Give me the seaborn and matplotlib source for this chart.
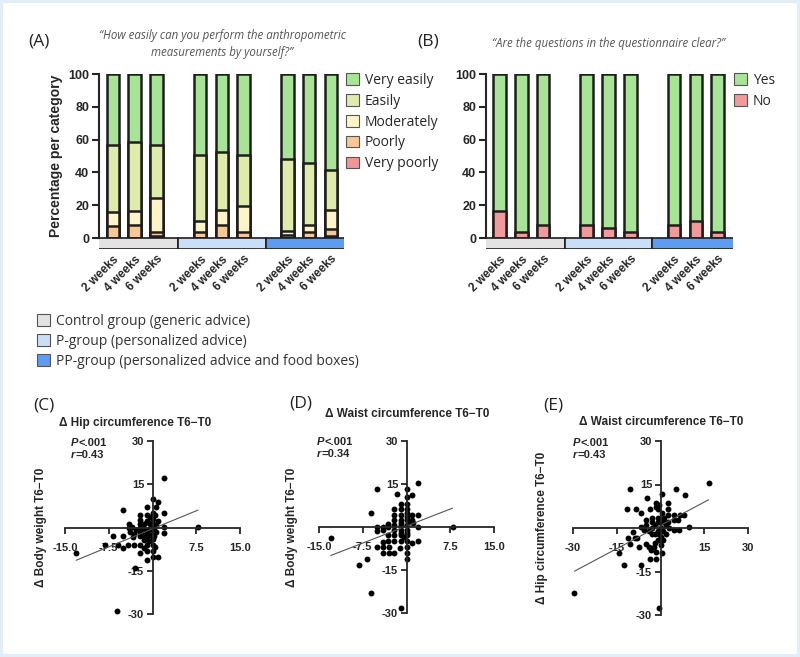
import numpy as np
import matplotlib
matplotlib.use("Agg")
import matplotlib.pyplot as plt
import matplotlib.patches as mpatches
import pandas as pd
import seaborn as sns

sns.set_style("ticks")
plt.rcParams['font.family'] = ['Liberation Sans', 'DejaVu Sans']

weeks = ["2 weeks", "4 weeks", "6 weeks"]
groups = ["Control group (generic advice)", "P-group (personalized advice)",
          "PP-group (personalized advice and food boxes)"]
group_colors = ["#e3e3e3", "#c9def7", "#5c9cf2"]

# (A) percentages per bar: control 2/4/6 wk, P 2/4/6 wk, PP 2/4/6 wk
very_poorly = [0, 0, 1.5, 0, 0, 0, 0, 0, 1.5]
poorly = [7.5, 8, 2, 3.7, 8, 3.7, 2, 3.5, 4]
moderately = [8.5, 8.5, 21, 6.7, 9, 15.8, 2, 4.5, 11.5]
easily = [40.5, 42, 32, 40, 35.5, 31, 44, 37.5, 24.5]
very_easily = [43.5, 41.5, 43.5, 49.6, 47.5, 49.5, 52, 54.5, 58.5]
a_labels = ["Very poorly", "Poorly", "Moderately", "Easily", "Very easily"]
a_colors = ["#f09696", "#f7c896", "#fdf4c8", "#deebaa", "#a8e496"]

# (B)
no = [16.7, 3.7, 8, 8, 6, 3.7, 8, 10.6, 3.7]
yes = [83.3, 96.3, 92, 92, 94, 96.3, 92, 89.4, 96.3]
b_labels = ["No", "Yes"]
b_colors = ["#f09a9a", "#a8e496"]

# (C) hip circumference vs body weight change
c_hip = [1.9, 0, 0.9, -1.0, 0.6, -5.0, -2.1, -1.0, 0, 1.9, -2.1, -1.0, 0, 0.9, -4.1,
         -2.1, -1.4, -0.6, 0, 0.6, 1.9, 7.8, -4.1, -2.1, -1.4, -0.6, 0, -3.9, -3.1, -2.1,
         -1.0, 0, 1.9, 0.6, -6.8, -3.4, -2.1, -1.0, 0, -5.1, -1.4, -0.6, -8.1, -5.9, -4.2,
         -3.1, -2.1, -1.0, 0, -5.0, -2.1, -1.0, 0, -13.1, -1.0, 0, 0.9, -3.0, -6.1, -1.8,
         -0.3, 0.3, -1.7, -0.4, 0.3, -2.8, -3.5, -0.5, 0.4, -1.5, 0.4]
c_weight = [17.2, 9.9, 9.0, 7.1, 7.1, 6.0, 4.2, 4.2, 5.0, 5.0, 2.7, 2.4, 3.0, 2.4, 1.3,
            1.3, 1.3, 1.5, 1.3, 0.7, 0.1, 0.3, -0.1, -0.1, -0.5, -0.5, -0.8, -1.6, -2.2, -1.6,
            -1.6, -2.2, -1.8, -1.4, -2.9, -3.4, -3.1, -3.4, -3.9, -3.1, -4.5, -4.7, -5.9, -5.9, -5.9,
            -5.9, -5.9, -5.9, -5.9, -7.1, -8.9, -8.0, -8.0, -8.9, -11.1, -10.1, -10.1, -14.0, -29.0, 0.5,
            0.5, -0.2, -2.6, -2.5, -3.0, -0.8, 0.2, 3.5, 4.3, -7.0, -6.8]

# (D) waist circumference vs body weight change
d_waist = [1.9, -5.0, 0, -1.6, 1.0, 0, -6.1, -1.0, 0, -2.1, -1.0, 0, -2.1, -1.0, 0, 1.0, 1.9,
           -2.1, -1.0, 0, 1.0, -3.2, -2.1, -1.0, 0, 0.5, 1.1, -5.0, -4.1, -3.2, 7.9, 1.9,
           -13.0, -5.0, -4.1, -2.1, -1.0, 0, -3.2, -2.1, -1.0, 0,
           -4.1, -3.2, -2.1, -1.0, 0, 1.0, 1.9, -5.0, -4.1, -3.0, -1.2, 0,
           -4.1, -3.0, -2.1, 0, -6.7, 0, -8.1, -6.1, -1.0, 0, -1.0, 0, -1.0, -0.5]
d_weight = [15.2, 13.1, 13.1, 11.5, 11.2, 10.6, 5.0, 8.0, 8.0, 6.2, 6.2, 6.2, 4.2, 4.2, 4.8, 4.2, 4.2,
            2.4, 2.4, 2.4, 2.4, 1.0, 0.7, 0.7, 0.7, 1.9, 1.3, -0.1, -0.1, -0.1, 0.1, 0.1,
            -4.0, -1.3, -1.0, -1.0, -1.0, -1.0, -2.8, -2.8, -2.8, -2.8,
            -5.1, -4.8, -4.8, -4.8, -4.8, -5.7, -4.8, -7.1, -7.1, -7.1, -7.4, -6.9,
            -9.0, -9.0, -9.0, -9.0, -11.0, -11.0, -13.3, -23.1, -28.1, -2.0, -2.0, 3.5, 1.5, -3.5]

# (E) waist circumference vs hip circumference change
e_waist = [16.5, -10.5, 5.4, 0.5, -4.5, 8.5, -11.5, -8.3, -6.6, -3.5, -1.6, -1.6, -0.5, -0.9,
           2.7, 2.7, 4.5, 6.7, 2.5, 0.5, 1.3, 4.5, 5.9, 7.9, 9.6, 4.5, 6.5,
           -5.0, -3.0, -5.0, -6.6, -5.8,
           -3, -2, -1, 0, 1, -1, -2, 0, 2, 1, -3, 0, 1, -1, 2, 3, -4, -2, 0, -3, 1, -1, 2.5, -0.5,
           -9.5, -11.0, -8.9, -8.1, -10.4, -7.5, -4.9, -4.1, -2.4, -3.2, -1.6, 0.5,
           -14.4, -12.5, -6.6, -3.5, -1.6, -29.5, -0.5]
e_hip = [15.4, 13.3, 13.3, 11.7, 10.2, 11.4, 6.4, 6.4, 5.3, 6.4, 8.5, 7.1, 7.9, 6.4,
         8.5, 6.4, 4.5, 4.5, 4.5, 5.1, 3.6, 2.8, 2.8, 4.5, 0.5, -0.7, -0.7,
         2.8, 3.3, 1.0, 0.5, -0.7,
         0, 1, 2, 0, -1, -1, -2, 2, 1, 2, -2, -3, -4, -4, -2, 0, -1, -5, -6, 2, 3, 3.5, 2, -2,
         -1.5, -3.6, -3.6, -3.6, -5.5, -6.4, -5.5, -6.7, -6.7, -7.6, -8.3, -8.5,
         -8.5, -12.6, -12.6, -10.6, -10.6, -22.5, -27.5]

fig = plt.figure(figsize=(8, 6.57), dpi=100)
fig.patch.set_edgecolor("#e1eef8")
fig.patch.set_linewidth(4)
W, H = 800, 657
LAB = dict(family=["Open Sans", "DejaVu Sans"])


def px_axes(left, top, right, bottom):
    return fig.add_axes([left / W, 1 - bottom / H, (right - left) / W, (bottom - top) / H])


strip = 6.7
pos = [g * 4 + w for g in range(3) for w in range(3)]


def stacked(ax, layers, colors, xlim):
    tops = np.cumsum(np.array(layers, dtype=float), axis=0)
    for i in range(len(layers) - 1, -1, -1):
        df = pd.DataFrame({"pos": pos, "top": tops[i]})
        sns.barplot(data=df, x="pos", y="top", native_scale=True, width=0.58,
                    color=colors[i], saturation=1, edgecolor="#1e1e1e", linewidth=1.8,
                    errorbar=None, orient="x", ax=ax)
    sdf = pd.DataFrame({"pos": [1, 5, 9], "top": [-strip] * 3, "g": groups})
    sns.barplot(data=sdf, x="pos", y="top", hue="g", palette=group_colors, native_scale=True,
                width=1.0, saturation=1, dodge=False, edgecolor="#1e1e1e", linewidth=1.2,
                errorbar=None, orient="x", legend=False, ax=ax)
    ax.set_xlim(*xlim)
    ax.set_ylim(-strip, 100)
    ax.set_xlabel("")
    ax.set_ylabel("")
    for s in ["top", "right", "bottom"]:
        ax.spines[s].set_visible(False)
    ax.spines["left"].set_bounds(0, 100)
    ax.spines["left"].set_linewidth(1.5)
    ax.set_yticks([0, 20, 40, 60, 80, 100])
    ax.tick_params(axis="y", length=5, width=1.5, pad=2, labelsize=9)
    ax.set_xticks(pos)
    ax.set_xticklabels(weeks * 3, rotation=45, ha="right", rotation_mode="anchor",
                       fontsize=8.5, fontweight="bold")
    ax.tick_params(axis="x", length=0, pad=3)
    for t in ax.get_yticklabels():
        t.set_fontweight("bold")


axA = px_axes(99, 74, 344, 249)
stacked(axA, [very_poorly, poorly, moderately, easily, very_easily], a_colors, (-0.64, 10.6))
axA.set_ylabel("Percentage per category", fontsize=10, fontweight="bold")
axA.yaxis.set_label_coords(-0.145, 0.53)

axB = px_axes(486, 74, 733, 249)
stacked(axB, [no, yes], b_colors, (-0.62, 10.7))

fig.text(222 / W, 1 - 44 / H,
         "\u201cHow easily can you perform the anthropometric\nmeasurements by yourself?\u201d",
         ha="center", va="center", style="italic", fontsize=8.3, color="#555555",
         linespacing=1.4, **LAB)
fig.text(608 / W, 1 - 44 / H, "\u201cAre the questions in the questionnaire clear?\u201d",
         ha="center", va="center", style="italic", fontsize=8.3, color="#555555", **LAB)

leg_kw = dict(loc="upper left", frameon=False, handlelength=0.9, handleheight=0.9,
              handletextpad=0.45, borderaxespad=0, borderpad=0,
              prop=dict(family=["Open Sans", "DejaVu Sans"], size=10))
hA = [mpatches.Patch(facecolor=c, edgecolor="#555555", linewidth=0.8, label=l)
      for c, l in zip(a_colors[::-1], a_labels[::-1])]
fig.legend(handles=hA, bbox_to_anchor=(346 / W, 1 - 73 / H), labelspacing=0.42, **leg_kw)
hB = [mpatches.Patch(facecolor=c, edgecolor="#555555", linewidth=0.8, label=l)
      for c, l in zip(b_colors[::-1], b_labels[::-1])]
fig.legend(handles=hB, bbox_to_anchor=(734 / W, 1 - 73 / H), labelspacing=0.42, **leg_kw)
hG = [mpatches.Patch(facecolor=c, edgecolor="#555555", linewidth=0.8, label=l)
      for c, l in zip(group_colors, groups)]
fig.legend(handles=hG, bbox_to_anchor=(37 / W, 1 - 314 / H), labelspacing=0.35,
           labelcolor="#333333", **leg_kw)


def scatter_panel(ax, x, y, xticks, xlabels, title, ylabel, r, title_x, title_y, ylab_x, ptxt):
    sns.regplot(x=x, y=y, ax=ax, ci=None,
                scatter_kws=dict(s=18, color="black", linewidths=0, alpha=1, clip_on=False),
                line_kws=dict(color="#555555", linewidth=0.8))
    lim = max(abs(xticks[0]), abs(xticks[-1]))
    ax.set_xlim(-lim, lim)
    ax.set_ylim(-30, 30)
    ax.spines["left"].set_position("zero")
    ax.spines["bottom"].set_position("zero")
    ax.spines["top"].set_visible(False)
    ax.spines["right"].set_visible(False)
    for s in ["left", "bottom"]:
        ax.spines[s].set_linewidth(1.3)
    ax.set_xticks(xticks)
    ax.set_xticklabels(xlabels, fontsize=8, fontweight="bold")
    ax.set_yticks([-30, -15, 15, 30])
    ax.set_yticklabels(["-30", "-15", "15", "30"], fontsize=8, fontweight="bold")
    ax.tick_params(axis="x", length=4, width=1.3, pad=7)
    ax.tick_params(axis="y", length=4, width=1.3, pad=2)
    ax.set_xlabel("")
    ax.set_ylabel(ylabel, fontsize=8.5, fontweight="bold")
    ax.yaxis.set_label_coords(ylab_x, 0.5)
    fig.text(title_x / W, 1 - title_y / H, title, ha="center", va="center",
             fontsize=8.5, fontweight="bold")
    px, py = ptxt
    t1 = fig.text(px / W, 1 - py / H, "P", style="italic", fontweight="bold", fontsize=8,
                  va="center")
    ax.annotate("<.001", xy=(1, 0), xycoords=t1, va="bottom", fontweight="bold", fontsize=8,
                annotation_clip=False)
    t2 = fig.text(px / W, 1 - (py + 12) / H, "r", style="italic", fontweight="bold",
                  fontsize=8, va="center")
    ax.annotate("=" + r, xy=(1, 0), xycoords=t2, va="bottom", fontweight="bold", fontsize=8,
                annotation_clip=False)


axC = px_axes(65, 441, 240, 614)
scatter_panel(axC, c_hip, c_weight, [-15, -7.5, 7.5, 15], ["-15.0", "-7.5", "7.5", "15.0"],
              "\u0394 Hip circumference T6\u2212T0", "\u0394 Body weight T6\u2212T0", "0.43",
              135, 423, -0.105, (71, 443))
axD = px_axes(319, 441, 494, 613)
scatter_panel(axD, d_waist, d_weight, [-15, -7.5, 7.5, 15], ["-15.0", "-7.5", "7.5", "15.0"],
              "\u0394 Waist circumference T6\u2212T0", "\u0394 Body weight T6\u2212T0", "0.34",
              407, 414, -0.12, (317, 442))
axE = px_axes(573, 441, 748, 615)
scatter_panel(axE, e_waist, e_hip, [-30, -15, 15, 30], ["-30", "-15", "15", "30"],
              "\u0394 Waist circumference T6\u2212T0", "\u0394 Hip circumference T6\u2212T0", "0.43",
              661, 422, -0.145, (573, 443))

for lbl, x, y in [("(A)", 28, 41), ("(B)", 417, 41), ("(C)", 33, 405), ("(D)", 289, 403),
                  ("(E)", 543, 405)]:
    fig.text(x / W, 1 - y / H, lbl, fontsize=12.5, va="center", ha="left", color="#222222",
             **LAB)

fig.savefig("out.png", dpi=100)
